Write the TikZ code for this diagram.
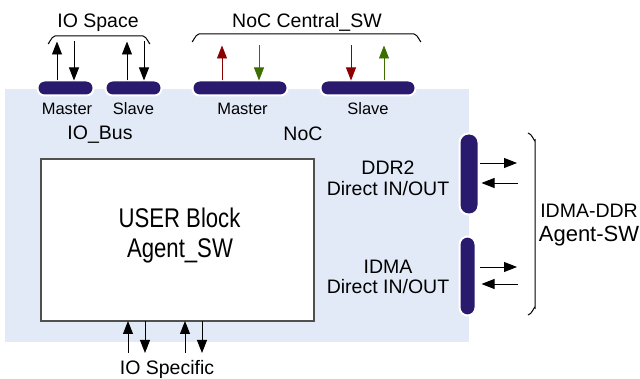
\documentclass[tikz,border=0pt]{standalone}
\usepackage{fontspec}
\setmainfont{Liberation Sans}
\usetikzlibrary{arrows.meta}
\definecolor{bgblue}{HTML}{E3EAF7}
\definecolor{barnavy}{HTML}{2A1A6E}
\definecolor{arrred}{HTML}{8B0000}
\definecolor{arrgreen}{HTML}{3C6E00}
\definecolor{boxline}{HTML}{505050}
\tikzset{
  hbar/.style={draw=white, line width=2pt, fill=barnavy, rounded corners=7pt, inner sep=0pt, outer sep=0pt, minimum height=15pt},
  vbar/.style={draw=white, line width=2pt, fill=barnavy, inner sep=0pt, outer sep=0pt},
  ar/.style={-{Triangle[length=13pt,width=10pt]}, line width=0.9pt, black},
  redar/.style={-{Triangle[length=13pt,width=10pt]}, line width=0.8pt, arrred},
  grnar/.style={-{Triangle[length=13pt,width=10pt]}, line width=0.8pt, arrgreen},
  brc/.style={line width=1pt, black},
  lbl/.style={font=\fontsize{19.5}{22}\selectfont, inner sep=0pt, anchor=base},
  smalllbl/.style={font=\fontsize{16.5}{19}\selectfont, inner sep=0pt, anchor=base},
  biglbl/.style={font=\fontsize{27}{30}\selectfont, inner sep=0pt, anchor=base},
  userbox/.style={draw=boxline, line width=1.5pt, fill=white, inner sep=0pt, outer sep=0pt},
  bgbox/.style={fill=bgblue, inner sep=0pt, outer sep=0pt}
}
\begin{document}
\begin{tikzpicture}[x=1pt,y=-1pt]
\useasboundingbox (0,0) rectangle (640,379);
% background
\node[bgbox, minimum width=464, minimum height=253] (bg) at (237,215.5) {};
% user block
\node[userbox, minimum width=273, minimum height=162] (user) at (177.5,240) {};
% bars
\node[hbar, minimum width=56] (iom) at (65.5,88) {};
\node[hbar, minimum width=56] (ios) at (133.5,88) {};
\node[hbar, minimum width=95] (nocm) at (240,88) {};
\node[hbar, minimum width=95] (nocs) at (368,88) {};
\node[vbar, rounded corners=9pt, minimum width=19, minimum height=81] (ddr) at (469,174) {};
\node[vbar, rounded corners=8pt, minimum width=16, minimum height=79] (idma) at (467.5,276) {};
% texts
\node[lbl] (iospace) at (98,28) {IO Space};
\node[lbl] (nocsw) at (307,28) {NoC Central\_SW};
\node[smalllbl] (iomt) at (67,115) {Master};
\node[smalllbl] (iost) at (133.5,115) {Slave};
\node[lbl] (iobus) at (100,140) {IO\_Bus};
\node[smalllbl] (nocmt) at (242.5,115) {Master};
\node[smalllbl] (nocst) at (368,115) {Slave};
\node[lbl] (noct) at (303,141) {NoC};
\node[biglbl] (ub1) at (179.5,228) {\scalebox{0.82}[1]{USER Block}};
\node[biglbl] (ub2) at (180,258) {\scalebox{0.82}[1]{Agent\_SW}};
\node[lbl] (ddrt) at (388,175) {DDR2};
\node[lbl] (ddrt2) at (388,196) {Direct IN/OUT};
\node[lbl] (idmat) at (388,274) {IDMA};
\node[lbl] (idmat2) at (388,294) {Direct IN/OUT};
\node[lbl] (rt1) at (589,218) {IDMA-DDR};
\node[lbl, font=\fontsize{22}{26}\selectfont] (rt2) at (589,242) {Agent-SW};
\node[lbl] (iosp) at (167,374.5) {IO Specific};
% braces
\draw[brc] (48,43) to[out=-90,in=180] (55,36) -- (143,36) to[out=0,in=-90] (150,43);
\draw[brc] (192,41) to[out=-90,in=180] (199,34) -- (414,34) to[out=0,in=-90] (421,41);
\draw[brc] (528,133) to[out=0,in=-90] (535,140) -- (535,308) to[out=90,in=0] (528,315);
% IO space arrows
\draw[ar] ([xshift=-8.5pt]iom.north) -- ++(0,-39);
\draw[ar] ([xshift=8.5pt]iom.north) ++(0,-39) -- ([xshift=8.5pt]iom.north);
\draw[ar] ([xshift=-6.5pt]ios.north) -- ++(0,-39);
\draw[ar] ([xshift=10.5pt]ios.north) ++(0,-39) -- ([xshift=10.5pt]ios.north);
% NoC arrows
\draw[redar] ([xshift=-18pt]nocm.north) -- ++(0,-35);
\draw[grnar] ([xshift=19pt]nocm.north) ++(0,-35) -- ([xshift=19pt]nocm.north);
\draw[redar] ([xshift=-17pt]nocs.north) ++(0,-35) -- ([xshift=-17pt]nocs.north);
\draw[grnar] ([xshift=16pt]nocs.north) -- ++(0,-35);
% right arrows
\draw[ar] ([yshift=11pt,xshift=1.5pt]ddr.east) -- ++(37,0);
\draw[ar] ([yshift=-9pt,xshift=39pt]ddr.east) -- ++(-36,0);
\draw[ar] ([yshift=9pt,xshift=4.5pt]idma.east) -- ++(37,0);
\draw[ar] ([yshift=-8pt,xshift=42pt]idma.east) -- ++(-36,0);
% bottom arrows
\draw[ar] ([xshift=-49.5pt,yshift=-32pt]user.south) -- ([xshift=-49.5pt]user.south);
\draw[ar] ([xshift=-32.5pt]user.south) -- ++(0,32);
\draw[ar] ([xshift=7.5pt,yshift=-32pt]user.south) -- ([xshift=7.5pt]user.south);
\draw[ar] ([xshift=24.5pt]user.south) -- ++(0,32);
\end{tikzpicture}
\end{document}
